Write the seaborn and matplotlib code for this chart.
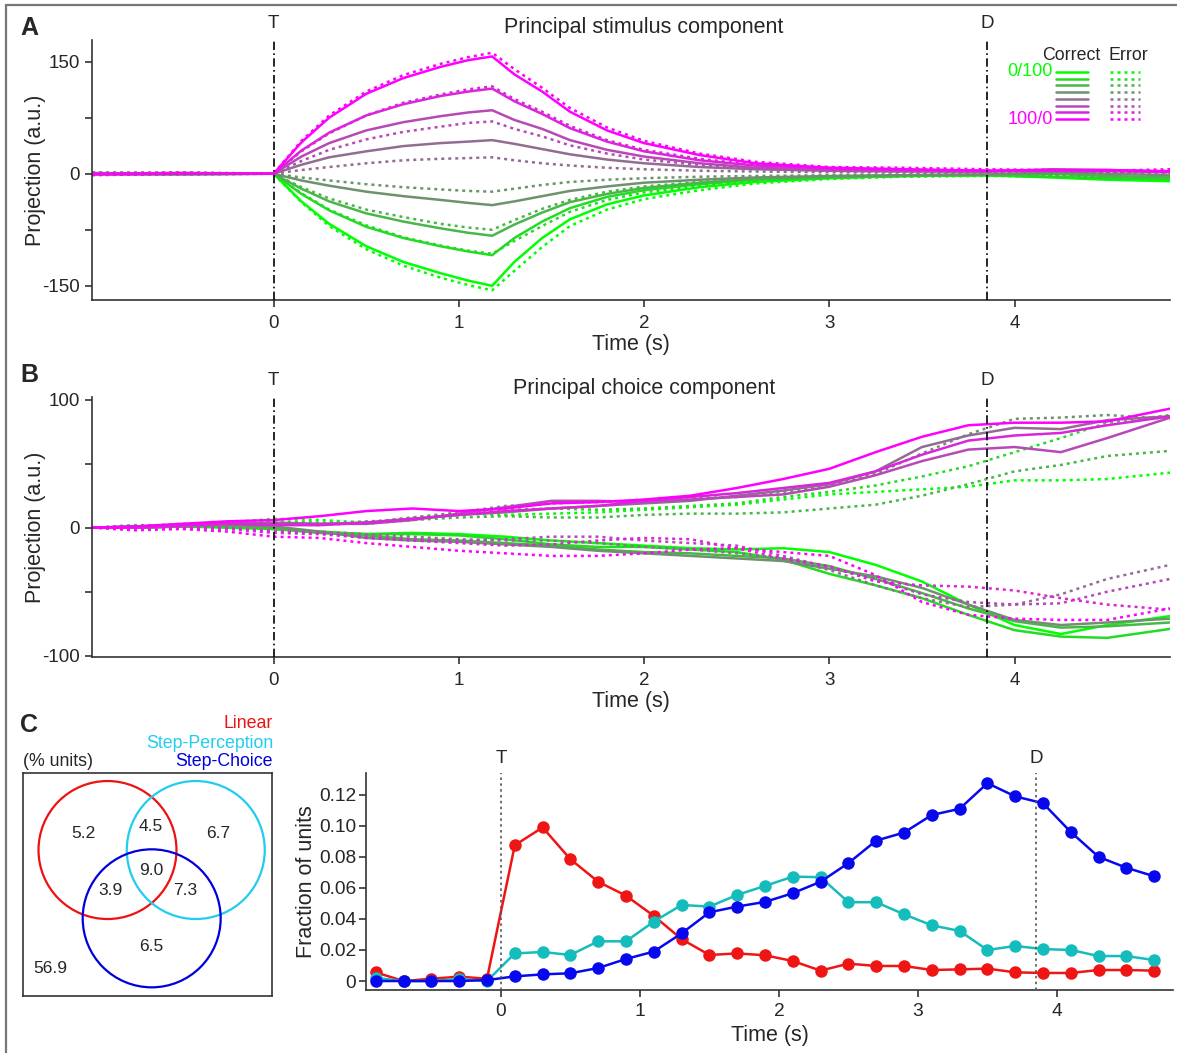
import pandas as pd
import seaborn as sns
import matplotlib.pyplot as plt
from matplotlib.patches import Circle, Rectangle
from matplotlib.transforms import blended_transform_factory

# ---- data ----
# eight stimulus levels, from 0/100 (green) to 100/0 (magenta)
levels = [1, 2, 3, 4, 5, 6, 7, 8]
level_colors = ['#00ff00', '#24db24', '#49b649', '#6d926d',
                '#926d92', '#b649b6', '#db24db', '#ff00ff']

# panel A: principal stimulus component
time_a = [-0.98, -0.5, 0.0, 0.15, 0.3, 0.5, 0.7, 0.9, 1.05, 1.18, 1.3, 1.45,
          1.6, 1.8, 2.0, 2.3, 2.6, 3.0, 3.4, 3.85, 4.2, 4.5, 4.84]
stim_correct = [
    [-1, -1, 0, -37, -67, -97, -118, -133, -143, -150, -118, -86, -61, -41, -29, -18, -11, -6, -3, -2, -5, -8, -10],
    [0, -1, 0, -27, -49, -71, -86, -97, -104, -109, -86, -64, -46, -31, -22, -14, -8, -5, -3, -2, -4, -6, -7],
    [0, 0, 0, -20, -37, -53, -64, -73, -79, -83, -68, -52, -38, -27, -19, -12, -7, -4, -2, -1, 0, -3, -5],
    [1, 0, 0, -9, -16, -24, -30, -35, -39, -42, -37, -30, -23, -17, -12, -8, -5, -3, -2, -1, 2, 0, -2],
    [0, 1, 0, 12, 22, 30, 37, 41, 43, 45, 40, 33, 26, 19, 14, 9, 6, 4, 3, 3, 6, 5, 3],
    [0, 0, 0, 23, 41, 58, 69, 77, 82, 85, 72, 60, 45, 32, 23, 14, 8, 5, 4, 3, 5, 4, 2],
    [0, 1, 0, 31, 55, 78, 93, 104, 110, 114, 97, 80, 61, 43, 30, 18, 11, 7, 5, 4, 4, 4, 3],
    [-1, 0, 0, 42, 75, 107, 128, 143, 152, 157, 133, 110, 83, 58, 41, 25, 14, 8, 6, 4, 5, 5, 3],
]
stim_error = [
    [0, 1, 0, -38, -70, -101, -123, -139, -149, -156, -130, -98, -70, -48, -34, -22, -13, -7, -4, -3, -4, -6, -7],
    [1, 0, 0, -26, -48, -69, -85, -96, -103, -107, -90, -70, -51, -35, -25, -16, -9, -5, -3, -2, -3, -4, -5],
    [0, 1, 0, -18, -33, -48, -58, -67, -72, -75, -62, -47, -35, -24, -17, -11, -7, -4, -2, -1, -2, -4, -5],
    [2, 1, 0, -5, -9, -14, -18, -21, -23, -24, -20, -15, -11, -8, -6, -4, -3, -2, -1, 0, 1, 0, -1],
    [1, 2, 0, 5, 9, 14, 18, 20, 21, 22, 18, 14, 11, 8, 6, 4, 3, 2, 2, 2, 3, 2, 2],
    [-1, 0, 0, 17, 32, 46, 56, 63, 68, 70, 60, 50, 38, 27, 19, 12, 7, 4, 3, 3, 4, 3, 2],
    [0, -1, 0, 30, 54, 78, 95, 106, 113, 117, 100, 83, 64, 45, 32, 20, 12, 8, 6, 4, 4, 3, 4],
    [-2, 0, 0, 44, 78, 110, 132, 147, 156, 162, 140, 115, 88, 62, 44, 27, 16, 9, 8, 6, 5, 4, 6],
]

# panel B: principal choice component
time_b = [-0.98, -0.75, -0.5, -0.25, 0.0, 0.25, 0.5, 0.75, 1.0, 1.25, 1.5, 1.75,
          2.0, 2.25, 2.5, 2.75, 3.0, 3.25, 3.5, 3.75, 4.0, 4.25, 4.5, 4.84]
choice_correct = [
    [0, 0, 1, 0, -1, -3, -5, -4, -5, -7, -10, -12, -14, -16, -17, -16, -19, -29, -42, -60, -76, -83, -76, -69],
    [0, 0, 1, 1, -1, -4, -5, -5, -6, -9, -13, -15, -15, -17, -19, -25, -36, -45, -55, -68, -80, -85, -86, -79],
    [0, 1, 2, 2, 0, -4, -6, -9, -10, -12, -14, -17, -19, -20, -22, -24, -30, -40, -51, -63, -73, -78, -77, -74],
    [0, 0, 1, 2, 1, -3, -8, -10, -11, -13, -15, -18, -20, -22, -24, -26, -32, -38, -47, -60, -72, -76, -74, -71],
    [0, 0, 1, 3, 4, 3, 4, 7, 10, 12, 15, 17, 19, 21, 25, 29, 34, 44, 63, 72, 78, 77, 84, 87],
    [0, 1, 2, 4, 3, 3, 3, 6, 11, 16, 21, 21, 20, 22, 24, 26, 32, 41, 52, 61, 63, 59, 70, 86],
    [0, 0, 2, 3, 2, 2, 4, 7, 10, 13, 15, 17, 21, 24, 27, 31, 35, 44, 57, 68, 72, 74, 80, 87],
    [0, 1, 3, 5, 6, 9, 13, 15, 13, 15, 19, 20, 22, 25, 31, 38, 46, 59, 71, 80, 82, 82, 83, 93],
]
choice_error = [
    [0, 2, 2, 4, 7, 6, 4, 8, 11, 10, 11, 12, 14, 16, 18, 22, 26, 28, 30, 32, 37, 37, 38, 43],
    [0, 2, 1, 3, 5, 4, 3, 6, 10, 14, 15, 14, 15, 17, 19, 24, 28, 33, 40, 48, 59, 70, 82, 88],
    [0, 1, 2, 3, 2, 3, 5, 6, 8, 9, 8, 8, 10, 11, 11, 12, 15, 18, 25, 34, 44, 49, 56, 60],
    [0, 1, 3, 4, 3, 2, 4, 8, 12, 17, 19, 20, 21, 23, 24, 28, 33, 42, 58, 73, 85, 86, 88, 85],
    [0, 1, 1, 0, -2, -3, -5, -7, -9, -10, -10, -12, -15, -17, -20, -24, -33, -45, -55, -62, -60, -52, -40, -29],
    [0, 0, 1, 0, -3, -4, -7, -9, -10, -9, -7, -7, -10, -12, -14, -22, -31, -40, -52, -58, -60, -59, -50, -40],
    [0, 1, 0, -1, -4, -5, -8, -10, -12, -14, -13, -10, -8, -9, -16, -24, -30, -42, -45, -46, -49, -55, -60, -64],
    [0, -2, -1, -3, -7, -8, -12, -15, -18, -20, -22, -22, -20, -17, -16, -19, -22, -37, -58, -68, -71, -72, -72, -63],
]

# panel C: fraction of units per time bin
time_c = [-0.9, -0.7, -0.5, -0.3, -0.1, 0.1, 0.3, 0.5, 0.7, 0.9, 1.1, 1.3, 1.5, 1.7, 1.9,
          2.1, 2.3, 2.5, 2.7, 2.9, 3.1, 3.3, 3.5, 3.7, 3.9, 4.1, 4.3, 4.5, 4.7]
linear = [0.0056, 0.0, 0.0015, 0.0028, 0.0015, 0.0875, 0.099, 0.0785, 0.064, 0.055, 0.042, 0.027,
          0.0168, 0.0178, 0.0166, 0.0129, 0.0067, 0.0112, 0.0097, 0.0097, 0.0071, 0.0075, 0.008,
          0.0056, 0.0052, 0.0052, 0.0071, 0.0071, 0.0067]
step_perception = [0.002, 0.0, 0.0, 0.0013, 0.0, 0.0178, 0.0187, 0.0168, 0.0256, 0.0256, 0.0383,
                   0.049, 0.048, 0.0555, 0.0613, 0.0673, 0.0669, 0.0508, 0.0508, 0.043, 0.0359,
                   0.0323, 0.020, 0.0226, 0.0206, 0.020, 0.0161, 0.0161, 0.0135]
step_choice = [0.0, 0.0, 0.0, 0.0, 0.0006, 0.003, 0.0043, 0.005, 0.0084, 0.0142, 0.019, 0.0307,
               0.0443, 0.048, 0.051, 0.0566, 0.064, 0.076, 0.0905, 0.0957, 0.107, 0.111, 0.1275,
               0.119, 0.1146, 0.096, 0.080, 0.073, 0.0675]

# venn diagram (% units): L only, L&P, P only, all, L&C, P&C, C only, none
venn_values = ['5.2', '4.5', '6.7', '9.0', '3.9', '7.3', '6.5', '56.9']

T_TIME = 0.0
D_TIME = 3.85


def long_form(times, correct, error):
    rows = []
    for outcome, block in [('Correct', correct), ('Error', error)]:
        for lev, vals in zip(levels, block):
            for t, v in zip(times, vals):
                rows.append({'time': t, 'proj': v, 'level': lev, 'outcome': outcome})
    return pd.DataFrame(rows)


def style_axes(ax, size=13.5, ypad=4):
    sns.despine(ax=ax)
    for s in ['left', 'bottom']:
        ax.spines[s].set_color('#333333')
        ax.spines[s].set_linewidth(1.2)
    ax.tick_params(direction='out', length=5, width=1.2, color='#333333',
                   labelsize=size, pad=ypad)
    ax.tick_params(axis='x', pad=6)


def event_lines(ax, ls, color, lw):
    trans = blended_transform_factory(ax.transData, ax.transAxes)
    for t, lab in [(T_TIME, 'T'), (D_TIME, 'D')]:
        ax.axvline(t, ls=ls, color=color, lw=lw, zorder=5)
        ax.text(t, 1.03, lab, transform=trans, ha='center', va='bottom', fontsize=13.5)


def projection_panel(ax, df, ylim, yticks, ylabels, title, title_y):
    sns.lineplot(data=df, x='time', y='proj', hue='level', style='outcome',
                 palette=level_colors, dashes={'Correct': '', 'Error': (1.2, 1.6)},
                 linewidth=1.8, errorbar=None, legend=False, ax=ax)
    ax.set_xlim(-0.98, 4.84)
    ax.set_ylim(*ylim)
    ax.set_xticks([0, 1, 2, 3, 4])
    ax.set_yticks(yticks)
    ax.set_yticklabels(ylabels)
    ax.set_xlabel('Time (s)', fontsize=15.5)
    ax.set_ylabel('Projection (a.u.)', fontsize=15.5)
    ax.xaxis.set_label_coords(0.5, -0.13)
    ax.yaxis.set_label_coords(-0.043, 0.5)
    ax.text(0.512, title_y, title, transform=ax.transAxes, ha='center', va='center', fontsize=15.5)
    style_axes(ax)
    event_lines(ax, (0, (5, 2, 1, 2)), 'black', 1.2)


sns.set_style('ticks')
plt.rcParams['font.family'] = ['Liberation Sans', 'DejaVu Sans']

fig = plt.figure(figsize=(11.77, 10.53), dpi=100)
fig.patches.append(Rectangle((0.0055, -0.5), 2, 1.495, transform=fig.transFigure,
                             fill=False, edgecolor='#777777', lw=1.6))

# ---- panel A ----
axA = fig.add_axes([0.0782, 0.7151, 0.916, 0.2469])
projection_panel(axA, long_form(time_a, stim_correct, stim_error), (-169, 179),
                 [-150, -75, 0, 75, 150], ['-150', '', '0', '', '150'],
                 'Principal stimulus component', 1.05)

# hand-made legend: correct (solid) / error (dotted)
axA.text(0.908, 0.942, 'Correct', transform=axA.transAxes, ha='center', va='center', fontsize=12.8)
axA.text(0.961, 0.942, 'Error', transform=axA.transAxes, ha='center', va='center', fontsize=12.8)
for i, col in enumerate(level_colors):
    yy = 0.877 - i * 0.0259
    axA.plot([0.894, 0.924], [yy, yy], color=col, lw=1.8, transform=axA.transAxes, clip_on=False)
    axA.plot([0.944, 0.972], [yy, yy], color=col, lw=1.8, ls=(0, (1.2, 1.6)),
             transform=axA.transAxes, clip_on=False)
axA.text(0.891, 0.877, '0/100', color=level_colors[0], transform=axA.transAxes,
         ha='right', va='center', fontsize=13)
axA.text(0.891, 0.696, '100/0', color=level_colors[-1], transform=axA.transAxes,
         ha='right', va='center', fontsize=13)

# ---- panel B ----
axB = fig.add_axes([0.0782, 0.376, 0.916, 0.2469])
projection_panel(axB, long_form(time_b, choice_correct, choice_error), (-101, 102),
                 [-100, -50, 0, 50, 100], ['-100', '', '0', '', '100'],
                 'Principal choice component', 1.032)

# ---- panel C, venn ----
axV = fig.add_axes([0.0193, 0.0541, 0.2115, 0.2115])
axV.set_xlim(0, 249)
axV.set_ylim(0, 222.7)
axV.set_xticks([])
axV.set_yticks([])
for s in axV.spines.values():
    s.set_color('#333333')
    s.set_linewidth(1.2)
venn_red, venn_cyan, venn_blue = '#ee1111', '#22ccee', '#0000dd'
for (cx, cy), col in [((84.8, 146), venn_red), ((173.1, 146), venn_cyan), ((129, 77.7), venn_blue)]:
    axV.add_patch(Circle((cx, cy), 69, fill=False, edgecolor=col, lw=1.6))
venn_pos = [(60.6, 162.7), (128.3, 169.3), (195.6, 162.7), (128.3, 126),
            (87.3, 106), (162.3, 106), (129, 49.3), (27.3, 27.7)]
for (x, y), val in zip(venn_pos, venn_values):
    axV.text(x, y, val, ha='center', va='center', fontsize=12.5)

fig.text(273 / 1177, 1 - 724 / 1053, 'Linear', color=venn_red, ha='right', va='center', fontsize=12.8)
fig.text(273 / 1177, 1 - 743 / 1053, 'Step-Perception', color=venn_cyan, ha='right', va='center', fontsize=12.8)
fig.text(273 / 1177, 1 - 762 / 1053, 'Step-Choice', color=venn_blue, ha='right', va='center', fontsize=12.8)
fig.text(23 / 1177, 1 - 762 / 1053, '(% units)', ha='left', va='center', fontsize=12.8)

# ---- panel C, fractions ----
axC = fig.add_axes([0.311, 0.0598, 0.6856, 0.206])
dfC = pd.DataFrame({
    'time': time_c * 3,
    'frac': linear + step_perception + step_choice,
    'type': ['Linear'] * len(time_c) + ['Step-Perception'] * len(time_c) + ['Step-Choice'] * len(time_c),
})
sns.lineplot(data=dfC, x='time', y='frac', hue='type',
             palette={'Linear': '#f01515', 'Step-Perception': '#15bcbc', 'Step-Choice': '#0808ee'},
             marker='o', markersize=9, markeredgewidth=0, linewidth=1.8,
             errorbar=None, legend=False, ax=axC)
axC.set_xlim(-0.97, 4.835)
axC.set_ylim(-0.0058, 0.134)
axC.set_xticks([0, 1, 2, 3, 4])
axC.set_yticks([0, 0.02, 0.04, 0.06, 0.08, 0.10, 0.12])
axC.set_yticklabels(['0', '0.02', '0.04', '0.06', '0.08', '0.10', '0.12'])
axC.set_xlabel('Time (s)', fontsize=15.5)
axC.set_ylabel('Fraction of units', fontsize=15.5)
axC.xaxis.set_label_coords(0.5, -0.16)
axC.yaxis.set_label_coords(-0.061, 0.5)
style_axes(axC, 13.8, ypad=2)
axC.tick_params(axis='x', pad=4)
event_lines(axC, (0, (1.5, 2)), '#555555', 1.2)

# panel letters
for lab, y in [('A', 28), ('B', 375), ('C', 725)]:
    fig.text(29 / 1177, 1 - y / 1053, lab, fontsize=18, fontweight='bold', ha='center', va='center')

fig.savefig('out.png', dpi=100)
